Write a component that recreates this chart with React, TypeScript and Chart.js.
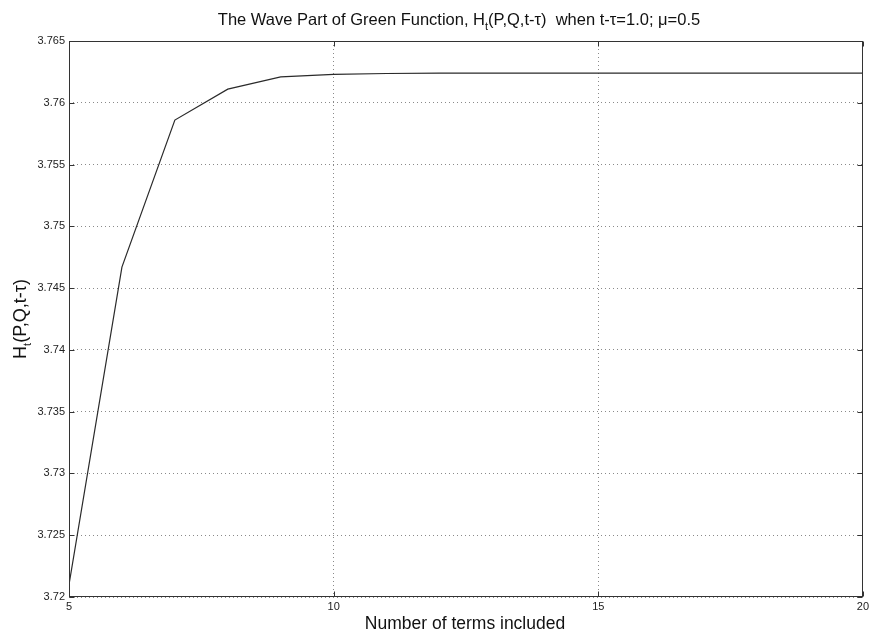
import React, { useEffect, useRef } from "react";
import { Chart, registerables } from "chart.js";

Chart.register(...registerables);

// ---- data ----
const termsIncluded = [5, 6, 7, 8, 9, 10, 11, 12, 13, 14, 15, 16, 17, 18, 19, 20];
const waveValues = [
  3.721, 3.7467, 3.7586, 3.7611, 3.7621, 3.7623, 3.76237, 3.7624, 3.7624, 3.7624,
  3.7624, 3.7624, 3.7624, 3.7624, 3.7624, 3.7624,
];
const xTickValues = [5, 10, 15, 20];
const yTickValues = [3.72, 3.725, 3.73, 3.735, 3.74, 3.745, 3.75, 3.755, 3.76, 3.765];

const titleParts = ["The Wave Part of Green Function, H", "t", "(P,Q,t-\u03C4)  when t-\u03C4=1.0; \u03BC=0.5"];
const xAxisTitle = "Number of terms included";
const yAxisParts = ["H", "t", "(P,Q,t-\u03C4)"];

const FONT = "'Liberation Sans', Arial, sans-serif";

function drawRich(
  ctx: CanvasRenderingContext2D,
  cx: number,
  baseline: number,
  parts: string[],
  size: number,
  subSize: number,
  subDrop: number
) {
  ctx.font = `${size}px ${FONT}`;
  const w0 = ctx.measureText(parts[0]).width;
  const w2 = ctx.measureText(parts[2]).width;
  ctx.font = `${subSize}px ${FONT}`;
  const w1 = ctx.measureText(parts[1]).width;
  const total = w0 + w1 + w2;
  let x = cx - total / 2;
  ctx.textAlign = "left";
  ctx.textBaseline = "alphabetic";
  ctx.font = `${size}px ${FONT}`;
  ctx.fillText(parts[0], x, baseline);
  x += w0;
  ctx.font = `${subSize}px ${FONT}`;
  ctx.fillText(parts[1], x, baseline + subDrop);
  x += w1;
  ctx.font = `${size}px ${FONT}`;
  ctx.fillText(parts[2], x, baseline);
}

const decorPlugin = {
  id: "matlabDecor",
  afterDraw(chart: any) {
    const ctx: CanvasRenderingContext2D = chart.ctx;
    const { left, right, top, bottom } = chart.chartArea;
    const xs = chart.scales.x;
    const ys = chart.scales.y;
    const L = Math.round(left) + 0.5;
    const R = Math.round(right) - 0.5;
    const T = Math.round(top) + 0.5;
    const B = Math.round(bottom) - 0.5;
    ctx.save();
    ctx.strokeStyle = "#333";
    ctx.lineWidth = 1;
    ctx.setLineDash([]);
    ctx.strokeRect(L, T, R - L, B - T);
    const tl = 5;
    ctx.beginPath();
    xTickValues.forEach((v) => {
      const px = Math.round(xs.getPixelForValue(v)) + 0.5;
      ctx.moveTo(px, B);
      ctx.lineTo(px, B - tl);
      ctx.moveTo(px, T);
      ctx.lineTo(px, T + tl);
    });
    yTickValues.forEach((v) => {
      const py = Math.round(ys.getPixelForValue(v)) + 0.5;
      ctx.moveTo(L, py);
      ctx.lineTo(L + tl, py);
      ctx.moveTo(R, py);
      ctx.lineTo(R - tl, py);
    });
    ctx.stroke();

    ctx.fillStyle = "#111";
    // title
    drawRich(ctx, 459, 25, titleParts, 16.5, 11, 5);
    // x axis title
    ctx.font = `17.5px ${FONT}`;
    ctx.textAlign = "center";
    ctx.textBaseline = "alphabetic";
    ctx.fillText(xAxisTitle, 465, 629);
    // y axis title
    ctx.save();
    ctx.translate(26, 319);
    ctx.rotate(-Math.PI / 2);
    drawRich(ctx, 0, 0, yAxisParts, 18, 11, 5);
    ctx.restore();
    ctx.restore();
  },
};

export default function App() {
  const canvasRef = useRef<HTMLCanvasElement | null>(null);

  useEffect(() => {
    if (!canvasRef.current) return;
    const chart = new Chart(canvasRef.current, {
      type: "line",
      data: {
        datasets: [
          {
            data: termsIncluded.map((x, i) => ({ x, y: waveValues[i] })),
            borderColor: "#2a2a2a",
            borderWidth: 1.2,
            pointRadius: 0,
            tension: 0,
            fill: false,
          },
        ],
      },
      options: {
        animation: false,
        responsive: false,
        layout: { padding: { top: 41, right: 8, left: 0, bottom: 0 } },
        plugins: {
          legend: { display: false },
          title: { display: false },
          tooltip: { enabled: false },
        },
        scales: {
          x: {
            type: "linear",
            min: 5,
            max: 20,
            afterBuildTicks: (scale: any) => {
              scale.ticks = xTickValues.map((v) => ({ value: v }));
            },
            afterFit: (scale: any) => {
              scale.height = 38;
            },
            ticks: {
              padding: 3,
              color: "#222",
              font: { family: FONT, size: 11 },
              maxRotation: 0,
              callback: (v: any) => String(v),
            },
            grid: { color: "#8a8a8a", drawTicks: false, lineWidth: 1 },
            border: { display: false, dash: [1, 3] },
          },
          y: {
            type: "linear",
            min: 3.72,
            max: 3.765,
            afterBuildTicks: (scale: any) => {
              scale.ticks = yTickValues.map((v) => ({ value: v }));
            },
            afterFit: (scale: any) => {
              scale.width = 69;
            },
            ticks: {
              padding: 4,
              color: "#222",
              font: { family: FONT, size: 11 },
              callback: (v: any) => String(Number(Number(v).toFixed(3))),
            },
            grid: { color: "#8a8a8a", drawTicks: false, lineWidth: 1 },
            border: { display: false, dash: [1, 3] },
          },
        },
      },
      plugins: [decorPlugin],
    });
    return () => chart.destroy();
  }, []);

  return (
    <div style={{ position: "absolute", left: 0, top: 0, width: 872, height: 635, background: "#fff" }}>
      <canvas ref={canvasRef} width={872} height={635} />
    </div>
  );
}
